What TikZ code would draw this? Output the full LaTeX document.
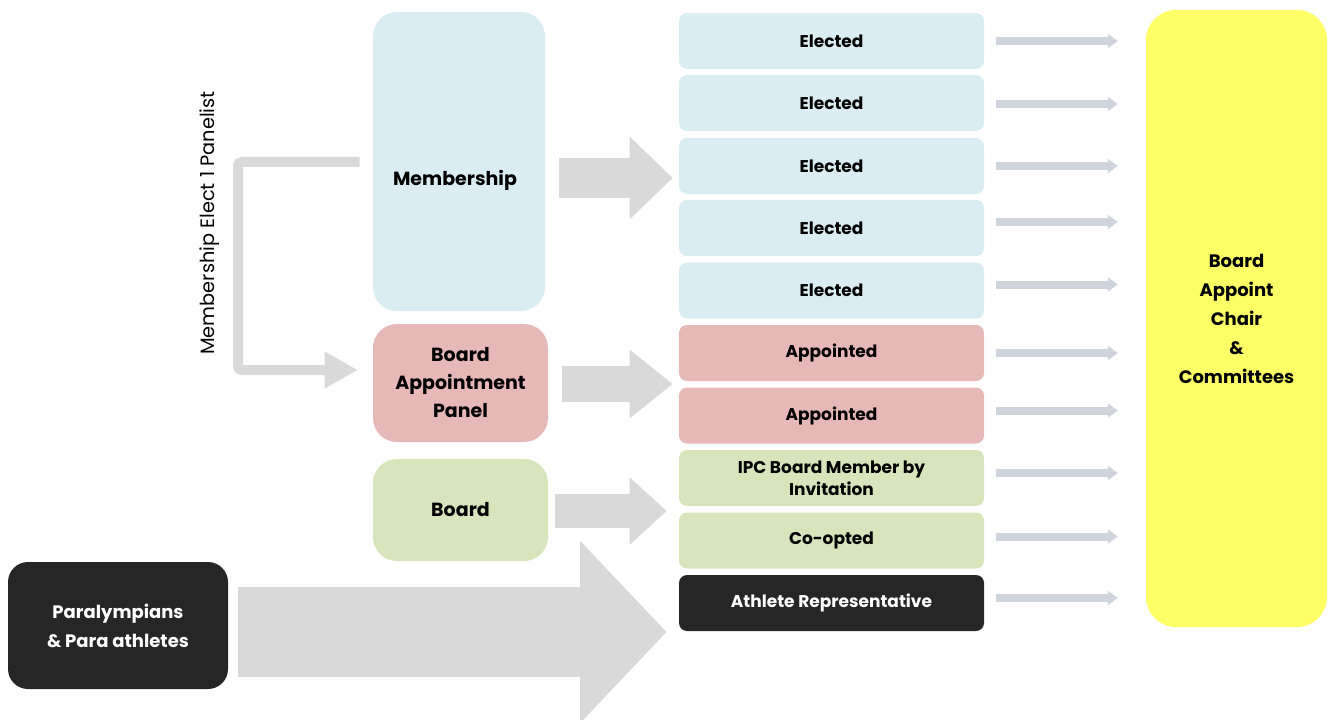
\documentclass[tikz,border=0pt]{standalone}
\usepackage{fontspec}
\setmainfont{Poppins}
\usetikzlibrary{arrows.meta,calc}
\definecolor{memblue}{HTML}{DAEDF3}
\definecolor{panelred}{HTML}{E6B8B7}
\definecolor{boardgreen}{HTML}{D8E4BC}
\definecolor{darkbox}{HTML}{262626}
\definecolor{chairyellow}{HTML}{FFFF66}
\definecolor{flowgrey}{HTML}{D9D9D9}
\definecolor{linkgrey}{HTML}{D0D4DC}
\tikzset{
  srcbox/.style={rounded corners=18pt, inner sep=0pt, align=center,
    font=\bfseries\fontsize{14.25}{21}\selectfont},
  seatbox/.style={rounded corners=6pt, inner sep=0pt, align=center,
    minimum width=228.75pt, minimum height=42pt,
    font=\bfseries\fontsize{12.75}{16.5}\selectfont},
  link/.style={draw=linkgrey, line width=6pt,
    -{Triangle[length=7.5pt,width=10.5pt]}},
  flow/.style={draw=flowgrey},
}
\begin{document}
\begin{tikzpicture}[x=0.75pt,y=-0.75pt]
\useasboundingbox (0,0) rectangle (1330,720);

% source boxes
\node[srcbox, fill=memblue, minimum width=129pt, minimum height=224.25pt] (mem) at (459,161.5) {};
\node[font=\bfseries\fontsize{14.25}{21}\selectfont] (memtxt) at (455,180) {Membership};
\node[srcbox, fill=panelred, minimum width=131.25pt, minimum height=88.5pt] (bap) at (460.5,383) {Board\\Appointment\\Panel};
\node[srcbox, fill=boardgreen, minimum width=131.25pt, minimum height=76.5pt] (brd) at (460.5,510) {Board};
\node[srcbox, fill=darkbox, text=white, rounded corners=15pt, minimum width=165pt, minimum height=95.25pt,
  font=\bfseries\fontsize{13.5}{21.75}\selectfont] (para) at (118,625.5) {Paralympians\\\& Para athletes};

% seats
\node[seatbox, fill=memblue] (e1) at (831.5,41) {Elected};
\node[seatbox, fill=memblue] (e2) at (831.5,103) {Elected};
\node[seatbox, fill=memblue] (e3) at (831.5,166) {Elected};
\node[seatbox, fill=memblue] (e4) at (831.5,228) {Elected};
\node[seatbox, fill=memblue] (e5) at (831.5,290.5) {Elected};
\node[seatbox, fill=panelred] (a1) at (831.5,353) {Appointed};
\node[seatbox, fill=panelred] (a2) at (831.5,415.5) {Appointed};
\node[seatbox, fill=boardgreen] (ipc) at (831.5,478) {IPC Board Member by\\Invitation};
\node[seatbox, fill=boardgreen] (coop) at (831.5,540.5) {Co-opted};
\node[seatbox, fill=darkbox, text=white] (ath) at (831.5,603) {Athlete Representative};

% chair and committees
\node[srcbox, fill=chairyellow, rounded corners=22.5pt, minimum width=135.75pt, minimum height=462.75pt,
  font=\bfseries\fontsize{13.5}{21.75}\selectfont] (chair) at (1236.5,318.5) {Board\\Appoint\\Chair\\\&\\Committees};

% seat to chair links
\foreach \s/\dy in {e1/0,e2/1,e3/0,e4/-6,e5/-6,a1/0,a2/-5,ipc/-5,coop/-4,ath/-5}
  \draw[link] ($(\s.east)+(12,\dy)$) -- ($(\s.east -| chair.west)+(-28,\dy)$);

% membership elects a panelist
\draw[flowgrey, line width=7.5pt, rounded corners=3pt, -{Triangle[length=24.75pt,width=26pt]}]
  ($(mem.west)+(-13,0.5)$) -- (238,162) -- (238,370) -- ($(bap.west)+(-15,-13)$);
\node[rotate=90, font=\fontsize{14.5}{16}\selectfont] (lbl) at (210,223) {Membership Elect 1 Panelist};

% main flows
\draw[flow, line width=30pt, arrows={-Triangle[length=32.25pt,width=60pt]}]
  ($(mem.east)+(14,16.5)$) -- ($(e3.west)+(-6,12)$);
\draw[flow, line width=27pt, arrows={-Triangle[length=32.25pt,width=49.5pt]}]
  ($(bap.east)+(14,1)$) -- ($(a1.west)+(-6,31)$);
\draw[flow, line width=25.5pt, arrows={-Triangle[length=27.75pt,width=48.75pt]}]
  ($(brd.east)+(7,1)$) -- ($(ipc.west)+(-12,33)$);
\draw[flow, line width=67.5pt, arrows={-Triangle[length=65pt,width=132.75pt]}]
  ($(para.east)+(10,6.5)$) -- ($(ath.west)+(-12,29)$);
\end{tikzpicture}
\end{document}
